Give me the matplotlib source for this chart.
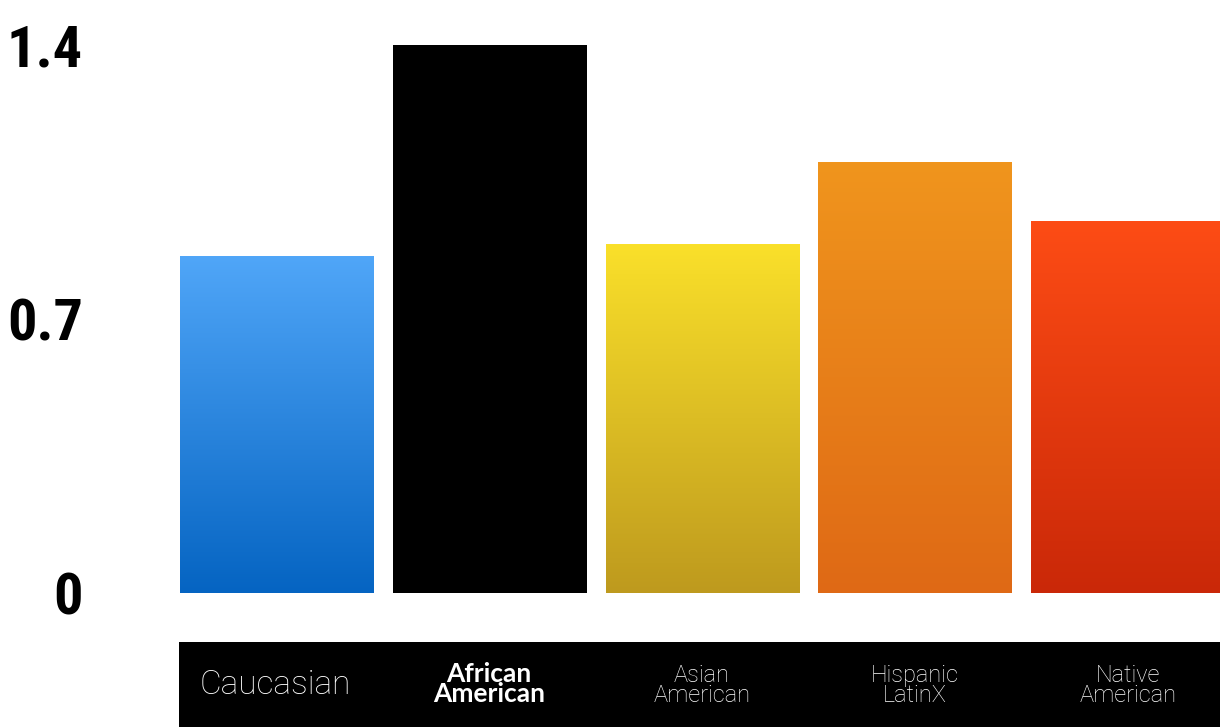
import numpy as np
import matplotlib.pyplot as plt
from matplotlib import font_manager
from matplotlib.colors import LinearSegmentedColormap

groups = ["Caucasian", "African\nAmerican", "Asian\nAmerican", "Hispanic\nLatinX", "Native\nAmerican"]
values = [0.86, 1.40, 0.89, 1.10, 0.95]
ytick_vals = [0, 0.7, 1.4]
ytick_labels = ["0", "0.7", "1.4"]
top_colors = ["#50a6f8", "#000000", "#fae02a", "#f0951d", "#fd4c15"]
bottom_colors = ["#0564c2", "#000000", "#be9a1e", "#df6915", "#ca2808"]

# pick a narrow heavy face for the y labels if one is installed
names = {f.name for f in font_manager.fontManager.ttflist}
narrow = None
for cand in ["Roboto Condensed", "Liberation Sans Narrow", "Open Sans Condensed", "Noto Sans Condensed"]:
    if cand in names:
        narrow = cand
        break
if narrow:
    yfont = dict(family=[narrow, "DejaVu Sans"], fontweight="black", fontsize=42)
    ypad = 70
else:
    yfont = dict(family="DejaVu Sans", fontweight="bold", fontsize=32)
    ypad = 70

fig = plt.figure(figsize=(12.2, 7.27), dpi=100)

# main bar axes
ax = fig.add_axes([180 / 1220, 134 / 727, 1045 / 1220, 593 / 727])
x = np.arange(len(groups))
bars = ax.bar(x, values, width=0.908, align="edge", color="none")

grad = np.linspace(1, 0, 256).reshape(-1, 1)
for i, b in enumerate(bars):
    cmap = LinearSegmentedColormap.from_list("g%d" % i, [bottom_colors[i], top_colors[i]])
    ext = (b.get_x(), b.get_x() + b.get_width(), 0, b.get_height())
    ax.imshow(grad, cmap=cmap, vmin=0, vmax=1, extent=ext, aspect="auto", zorder=2)

ax.set_xlim(0, 4.91)
ax.set_ylim(0, 1.515)
ax.set_yticks(ytick_vals)
ax.set_yticklabels(ytick_labels, **yfont)
ax.tick_params(axis="y", length=0, pad=ypad)
ax.set_xticks([])
for s in ax.spines.values():
    s.set_visible(False)

# black label band
band = fig.add_axes([179 / 1220, 0, 1046 / 1220, 85 / 727])
band.set_facecolor("black")
band.set_xlim(0, 4.91)
band.set_ylim(0, 1)
band.set_xticks([])
band.set_yticks([])
for s in band.spines.values():
    s.set_visible(False)

for i, b in enumerate(bars):
    cx = b.get_x() + b.get_width() / 2
    if i == 0:
        band.text(cx, 0.49, groups[i], color="white", ha="center", va="center",
                  fontsize=24, family="Roboto", fontweight="light")
    elif i == 1:
        band.text(cx, 0.5, groups[i], color="white", ha="center", va="center",
                  fontsize=19, family="Lato", fontweight="bold", linespacing=0.8)
    else:
        band.text(cx, 0.49, groups[i], color="white", ha="center", va="center",
                  fontsize=17, family="Roboto", fontweight="light", linespacing=0.8)

fig.savefig("out.png", dpi=100)
